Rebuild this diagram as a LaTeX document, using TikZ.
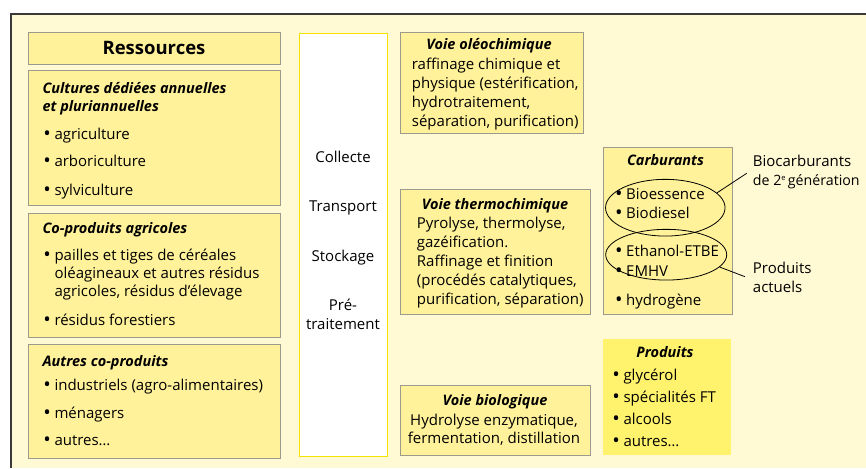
\documentclass[tikz,border=0pt]{standalone}
\usepackage{fontspec}
\setmainfont{Open Sans}
\usetikzlibrary{shapes.geometric}
\definecolor{creme}{HTML}{FFF9D4}
\definecolor{boxfill}{HTML}{FFF29A}
\definecolor{prodfill}{HTML}{FFF36E}
\definecolor{boxline}{HTML}{9C9A8C}
\definecolor{cadre}{HTML}{3A3A3A}
\definecolor{midline}{HTML}{F5E200}
\newcommand{\puce}{\llap{\raisebox{-1.2pt}{\fontsize{20}{17}\selectfont\textbullet}\hspace{3.5pt}}}
\tikzset{
	box/.style = {draw = boxline, fill = boxfill, line width = 0.9pt, anchor = north west, inner sep = 0},
	txt/.style = {anchor = base west, inner sep = 0, font = \fontsize{15}{17}\selectfont},
	ctxt/.style = {txt, anchor = base},
	head/.style = {txt, font = \fontsize{14.5}{17}\selectfont\bfseries\itshape},
	chead/.style = {head, anchor = base},
	ell/.style = {draw = black, ellipse, line width = 0.8pt, inner sep = 0},
	lien/.style = {draw = black, line width = 0.8pt}
}
\begin{document}
\begin{tikzpicture}[x = 1pt, y = -1pt]
	\useasboundingbox [fill = white] (0, 0) rectangle (866, 468);
	\fill [creme] (11, 14) rectangle (866, 468);
	\draw [cadre, line width = 1.3pt] (11, 468) -- (11, 14) -- (866, 14);

	\node [box, minimum width = 252, minimum height = 31.7] (res) at (28, 32.3) {};
	\node [chead, font = \fontsize{18.5}{20}\selectfont\bfseries] (restitle) at (154, 54.5) {Ressources};

	\node [box, minimum width = 252, minimum height = 134.5] (cult) at (28, 70) {};
	\node [head] (cult-h1) at (42.3, 93.3) {Cultures dédiées annuelles};
	\node [head] (cult-h2) at (42.3, 111.7) {et pluriannuelles};
	\foreach \yy/\txt [count = \i] in {139.3/agriculture, 166.7/arboriculture, 195/sylviculture}{
		\node [txt] (cult\i) at (54.3, \yy) {\puce\txt};}

	\node [box, minimum width = 252, minimum height = 123.7] (copro) at (28, 213) {};
	\node [head] (copro-h) at (42.3, 233) {Co-produits agricoles};
	\node [txt] (copro1) at (54.3, 260) {\puce pailles et tiges de céréales};
	\node [txt] (copro1b) at (54.3, 278.3) {oléagineaux et autres résidus};
	\node [txt] (copro1c) at (54.3, 296.7) {agricoles, résidus d'élevage};
	\node [txt] (copro2) at (54.3, 325) {\puce résidus forestiers};

	\node [box, minimum width = 252, minimum height = 114] (autres) at (28, 343.7) {};
	\node [head] (autres-h) at (42.3, 366.7) {Autres co-produits};
	\foreach \yy/\txt [count = \i] in {390.7/industriels (agro-alimentaires), 418.3/ménagers, 445.7/{autres\ldots}}{
		\node [txt] (autres\i) at (54.3, \yy) {\puce\txt};}

	\node [anchor = north west, draw = midline, fill = white, line width = 1pt, minimum width = 88, minimum height = 422.7, inner sep = 0] (etapes) at (299.3, 33.3) {};
	\foreach \yy/\txt [count = \i] in {162.7/Collecte, 211.7/Transport, 261/Stockage, 310.7/Pré-, 329.3/traitement}{
		\node [ctxt] (etape\i) at (343, \yy) {\txt};}

	\node [box, minimum width = 183, minimum height = 101.3] (oleo) at (400.3, 32) {};
	\node [chead] (oleo-h) at (489, 49.3) {Voie oléochimique};
	\foreach \yy/\txt [count = \i] in {70/raffinage chimique et, 88.7/{physique (estérification,}, 107.3/{hydrotraitement,}, 126/{séparation, purification)}}{
		\node [txt] (oleo\i) at (411.7, \yy) {\txt};}

	\node [box, minimum width = 189.7, minimum height = 125] (thermo) at (400.3, 189.3) {};
	\node [chead] (thermo-h) at (495, 209.5) {Voie thermochimique};
	\foreach \yy/\txt [count = \i] in {228.5/{Pyrolyse, thermolyse,}, 247.5/gazéification., 266.5/Raffinage et finition, 285.5/{(procédés catalytiques,}, 304.5/{purification, séparation)}}{
		\node [txt] (thermo\i) at (416.7, \yy) {\txt};}

	\node [box, minimum width = 189.7, minimum height = 70] (bio) at (400.3, 385) {};
	\node [chead] (bio-h) at (495, 405) {Voie biologique};
	\node [ctxt] (bio1) at (494, 425) {Hydrolyse enzymatique,};
	\node [ctxt] (bio2) at (494, 443.5) {fermentation, distillation};

	\node [box, minimum width = 129, minimum height = 167] (carb) at (602.7, 147.3) {};
	\node [chead] (carb-h) at (665.5, 165) {Carburants};
	\foreach \yy/\txt [count = \i] in {199.3/Bioessence, 218.3/Biodiesel, 256.7/Ethanol-ETBE, 276/EMHV, 305/hydrogène}{
		\node [txt] (carb\i) at (626, \yy) {\puce\txt};}
	\node [ell, minimum width = 119.5, minimum height = 56.7] (gen2) at (665.3, 207.7) {};
	\node [ell, minimum width = 121, minimum height = 50.7] (actuel) at (666.2, 254.7) {};

	\node [box, draw = none, fill = prodfill, minimum width = 128.7, minimum height = 116.7] (prod) at (602.3, 338.3) {};
	\node [chead] (prod-h) at (665, 357.3) {Produits};
	\foreach \yy/\txt [count = \i] in {380/glycérol, 402.7/spécialités FT, 424.3/alcools, 446.7/{autres\ldots}}{
		\node [txt] (prod\i) at (623.3, \yy) {\puce\txt};}

	\node [txt] (gen2-l1) at (752.7, 166) {Biocarburants};
	\node [txt, font = \fontsize{14.2}{17}\selectfont] (gen2-l2) at (752.7, 185) {de 2\raisebox{5pt}{\fontsize{7.5}{8}\selectfont e}\,génération};
	\node [txt] (actuel-l1) at (752.7, 273.3) {Produits};
	\node [txt] (actuel-l2) at (752.7, 292.7) {actuels};
	\coordinate (gen2-bout) at (746.7, 173.3);
	\coordinate (actuel-bout) at (745, 276.7);
	\draw [lien] (gen2.16) -- (gen2-bout);
	\draw [lien] (actuel.-13) -- (actuel-bout);
\end{tikzpicture}
\end{document}
